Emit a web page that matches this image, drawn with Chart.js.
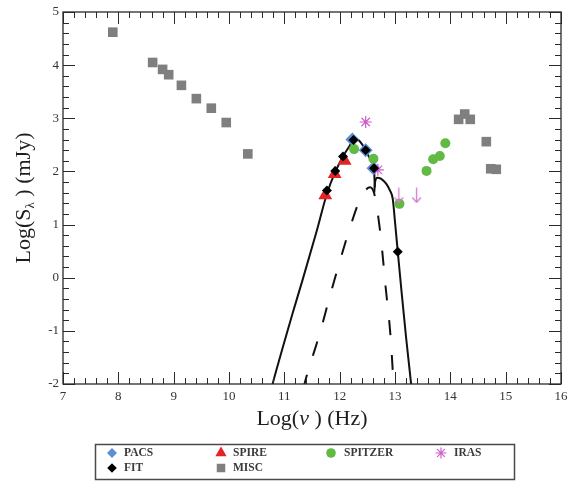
<!DOCTYPE html>
<html><head><meta charset="utf-8">
<script src="https://cdn.jsdelivr.net/npm/chart.js@4.4.1/dist/chart.umd.min.js"></script>
<style>html,body{margin:0;padding:0;background:#fff}canvas{display:block}</style>
</head><body>
<canvas id="c" width="569" height="482"></canvas>
<script>
// ---- axes ----
const xMin = 7, xMax = 16, yMin = -2, yMax = 5;
const majorStep = 1, minorStep = 0.2;

// ---- observed photometry: log(nu) [Hz], log(S) [mJy] ----
const miscX = [7.90, 8.62, 8.80, 8.91, 9.14, 9.41, 9.68, 9.95, 10.34, 14.15, 14.26, 14.36, 14.65, 14.73, 14.83];
const miscY = [4.62, 4.05, 3.92, 3.82, 3.62, 3.37, 3.19, 2.92, 2.33, 2.98, 3.08, 2.98, 2.56, 2.05, 2.04];
const spitzerX = [12.26, 12.61, 13.08, 13.57, 13.69, 13.81, 13.91];
const spitzerY = [2.42, 2.24, 1.39, 2.01, 2.23, 2.29, 2.53];
const spireX = [11.74, 11.91, 12.09];
const spireY = [1.55, 1.95, 2.20];
const pacsX = [12.23, 12.47, 12.61];
const pacsY = [2.60, 2.40, 2.06];
const irasX = [12.47, 12.69];
const irasY = [2.93, 2.03];
const irasLimitX = [13.07, 13.39];
const irasLimitY = [1.55, 1.55];
const fitX = [11.77, 11.92, 12.06, 12.25, 12.47, 12.62, 13.05];
const fitY = [1.64, 2.01, 2.28, 2.59, 2.40, 2.06, 0.49];

// ---- model curves ----
const modelAX = [10.75, 10.79, 11.15, 11.33, 11.58, 11.77, 11.92, 12.06, 12.16, 12.25, 12.33, 12.40, 12.47, 12.55, 12.62, 12.635];
const modelAY = [-2.15, -1.99, -0.67, -0.04, 0.86, 1.58, 1.99, 2.28, 2.45, 2.58, 2.59, 2.52, 2.40, 2.24, 2.06, 1.70];
const modelBX = [12.625, 12.64, 12.68, 12.75, 12.84, 12.91, 12.96, 13.00, 13.05, 13.12, 13.20, 13.29, 13.31];
const modelBY = [1.60, 1.80, 1.88, 1.86, 1.77, 1.64, 1.48, 1.05, 0.49, -0.28, -1.12, -1.99, -2.20];
const compX = [11.34, 11.40, 11.64, 11.82, 12.00, 12.18, 12.36, 12.46, 12.55, 12.62, 12.66, 12.75, 12.83, 12.92, 12.97, 12.98];
const compY = [-2.10, -1.86, -1.05, -0.36, 0.30, 0.92, 1.46, 1.64, 1.70, 1.60, 1.40, 0.70, -0.17, -1.11, -1.95, -2.15];

const pts = (xs, ys) => xs.map((x, i) => ({x, y: ys[i]}));

const serif = '"Liberation Serif", "Times New Roman", serif';

// down-arrow marker for upper limits
function arrowCanvas(color) {
  const c = document.createElement('canvas');
  c.width = 11; c.height = 16;
  const g = c.getContext('2d');
  g.strokeStyle = color; g.lineWidth = 1.3; g.lineCap = 'round';
  g.beginPath();
  g.moveTo(5.5, 1); g.lineTo(5.5, 15);
  g.moveTo(1.5, 10.5); g.lineTo(5.5, 15); g.lineTo(9.5, 10.5);
  g.stroke();
  return c;
}

const C_PACS = '#5b8fd8', C_SPIRE = '#e52323', C_SPITZER = '#62b944', C_IRAS = '#cc5fc8', C_MISC = '#7f7f7f', C_FIT = '#000000';

const lineBase = {showLine: true, pointRadius: 0, borderColor: '#111', borderWidth: 2, fill: false,
  cubicInterpolationMode: 'monotone', clip: 0, order: 20};

const datasets = [
  Object.assign({label: 'model', data: pts(modelAX, modelAY)}, lineBase),
  Object.assign({label: 'model2', data: pts(modelBX, modelBY)}, lineBase),
  Object.assign({label: 'component', data: pts(compX, compY), borderDash: [15, 20]}, lineBase),
  {label: 'MISC', data: pts(miscX, miscY), pointStyle: 'rect', pointRadius: 6.8, backgroundColor: C_MISC, borderWidth: 0, order: 9},
  {label: 'SPITZER', data: pts(spitzerX, spitzerY), pointStyle: 'circle', pointRadius: 5, backgroundColor: C_SPITZER, borderWidth: 0, order: 5},
  {label: 'SPIRE', data: pts(spireX, spireY), pointStyle: 'triangle', pointRadius: 8, backgroundColor: C_SPIRE, borderWidth: 0, order: 6},
  {label: 'PACS', data: pts(pacsX, pacsY), pointStyle: 'rectRot', pointRadius: 7, backgroundColor: C_PACS, borderWidth: 0, order: 7},
  {label: 'IRAS', data: pts(irasX, irasY), pointStyle: 'star', pointRadius: 6, backgroundColor: C_IRAS, borderColor: C_IRAS, borderWidth: 1.2, order: 4},
  {label: 'IRAS limits', data: pts(irasLimitX, irasLimitY), pointStyle: arrowCanvas('#d27ccd'), pointRadius: 6, order: 3},
  {label: 'FIT', data: pts(fitX, fitY), pointStyle: 'rectRot', pointRadius: 5, backgroundColor: C_FIT, borderWidth: 0, order: 1}
];

// frame with inward major/minor ticks on all four sides
const framePlugin = {
  id: 'frame',
  afterDatasetsDraw(chart) {
    const {ctx, chartArea: a, scales: {x, y}} = chart;
    ctx.save();
    ctx.strokeStyle = '#2a2a2a';
    ctx.lineWidth = 1.3;
    ctx.strokeRect(a.left, a.top, a.right - a.left, a.bottom - a.top);
    ctx.lineWidth = 1;
    ctx.beginPath();
    const nx = Math.round((xMax - xMin) / minorStep);
    const per = Math.round(majorStep / minorStep);
    for (let i = 0; i <= nx; i++) {
      const px = Math.round(x.getPixelForValue(xMin + i * minorStep)) + 0.5;
      const L = i % per === 0 ? 12 : 6;
      ctx.moveTo(px, a.bottom); ctx.lineTo(px, a.bottom - L);
      ctx.moveTo(px, a.top); ctx.lineTo(px, a.top + L);
    }
    const ny = Math.round((yMax - yMin) / minorStep);
    for (let i = 0; i <= ny; i++) {
      const py = Math.round(y.getPixelForValue(yMin + i * minorStep)) + 0.5;
      const L = i % per === 0 ? 12 : 6;
      ctx.moveTo(a.left, py); ctx.lineTo(a.left + L, py);
      ctx.moveTo(a.right, py); ctx.lineTo(a.right - L, py);
    }
    ctx.stroke();
    ctx.restore();
  }
};

function drawParts(ctx, parts, x, y) {
  let cx = x;
  for (const p of parts) {
    ctx.font = p.font;
    ctx.fillText(p.t, cx, y + (p.dy || 0));
    cx += ctx.measureText(p.t).width;
  }
}
function partsWidth(ctx, parts) {
  let w = 0;
  for (const p of parts) { ctx.font = p.font; w += ctx.measureText(p.t).width; }
  return w;
}

const titlePlugin = {
  id: 'titles',
  afterDraw(chart) {
    const {ctx, chartArea: a} = chart;
    ctx.save();
    ctx.fillStyle = '#1e1e1e';
    ctx.textBaseline = 'alphabetic';
    ctx.textAlign = 'left';
    const f = '22px ' + serif, fi = 'italic 22px ' + serif, fs = '13px ' + serif;
    const xParts = [{t: 'Log(', font: f}, {t: 'ν', font: fi}, {t: ' ) (Hz)', font: f}];
    const xw = partsWidth(ctx, xParts);
    drawParts(ctx, xParts, (a.left + a.right) / 2 - xw / 2, 425);
    const yParts = [{t: 'Log(S', font: f}, {t: 'λ', font: fs, dy: 4}, {t: ' ) (mJy)', font: f}];
    const yw = partsWidth(ctx, yParts);
    ctx.translate(30, (a.top + a.bottom) / 2);
    ctx.rotate(-Math.PI / 2);
    drawParts(ctx, yParts, -yw / 2, 0);
    ctx.restore();
  }
};

// boxed legend below the plot
const legendRows = [
  [{label: 'PACS', x: 112, tx: 124}, {label: 'SPIRE', x: 221, tx: 233}, {label: 'SPITZER', x: 331, tx: 344}, {label: 'IRAS', x: 441, tx: 454}],
  [{label: 'FIT', x: 112, tx: 124}, {label: 'MISC', x: 221, tx: 233}]
];
const legendSizes = {PACS: 5, SPIRE: 6.5, SPITZER: 4.8, IRAS: 5.5, FIT: 4.8, MISC: 6};
const legendPlugin = {
  id: 'boxLegend',
  afterDraw(chart) {
    const {ctx} = chart;
    ctx.save();
    ctx.strokeStyle = '#4a4a4a';
    ctx.lineWidth = 1.5;
    ctx.strokeRect(95.5, 444.5, 419, 35);
    const rowsY = [453, 468];
    legendRows.forEach((row, ri) => {
      row.forEach(item => {
        const ds = chart.data.datasets.find(d => d.label === item.label);
        ctx.fillStyle = ds.backgroundColor;
        ctx.strokeStyle = ds.borderColor || ds.backgroundColor;
        ctx.lineWidth = ds.borderWidth || 0;
        Chart.helpers.drawPoint(ctx, {pointStyle: ds.pointStyle, radius: legendSizes[item.label], rotation: 0, borderWidth: ds.borderWidth || 0}, item.x, rowsY[ri]);
        ctx.fillStyle = '#3a3a3a';
        ctx.font = 'bold 11.5px ' + serif;
        ctx.textBaseline = 'middle';
        ctx.textAlign = 'left';
        ctx.fillText(item.label, item.tx, rowsY[ri] + 0.5);
      });
    });
    ctx.restore();
  }
};

new Chart(document.getElementById('c'), {
  type: 'scatter',
  data: {datasets},
  options: {
    responsive: false,
    devicePixelRatio: 1,
    animation: false,
    events: [],
    layout: {padding: {top: 12, right: 7, left: 0, bottom: 0}},
    plugins: {legend: {display: false}, tooltip: {enabled: false}},
    scales: {
      x: {
        type: 'linear', min: xMin, max: xMax,
        grid: {display: false, drawTicks: false},
        border: {display: false},
        ticks: {stepSize: majorStep, autoSkip: false, maxRotation: 0, padding: 5,
          color: '#333', font: {family: serif, size: 13}, callback: v => String(v)},
        afterFit: s => { s.height = 98; s.paddingLeft = 0; s.paddingRight = 0; }
      },
      y: {
        type: 'linear', min: yMin, max: yMax,
        grid: {display: false, drawTicks: false},
        border: {display: false},
        ticks: {stepSize: majorStep, autoSkip: false, padding: 4,
          color: '#333', font: {family: serif, size: 13}, callback: v => String(v)},
        afterFit: s => { s.width = 63; s.paddingTop = 0; s.paddingBottom = 0; }
      }
    }
  },
  plugins: [framePlugin, titlePlugin, legendPlugin]
});
</script>
</body></html>
